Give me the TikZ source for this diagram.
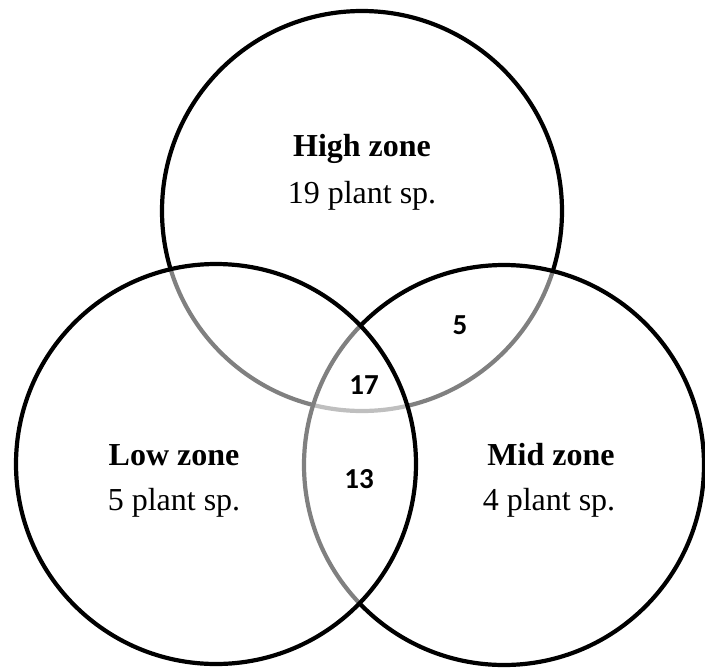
\documentclass[tikz,border=0pt]{standalone}
\usepackage{fontspec}
\setmainfont{Liberation Serif}
\newfontfamily\numfont{Carlito}
\begin{document}
\begin{tikzpicture}[x=1pt,y=-1pt,
  zonecircle/.style={circle, draw=black, line width=4.2pt, fill=white, fill opacity=0.5, minimum size=400pt, inner sep=0pt},
  zonetitle/.style={anchor=base, font=\fontsize{32}{36}\selectfont\bfseries, inner sep=0pt},
  zonecount/.style={anchor=base, font=\fontsize{32}{36}\selectfont, inner sep=0pt},
  overlap/.style={font=\fontsize{29}{32}\selectfont\numfont\bfseries, inner sep=0pt}]
\fill[white] (0,0) rectangle (705,670);
\useasboundingbox (0,0) rectangle (705,670);
\node[zonecircle] (high) at (362,211) {};
\node[zonecircle] (mid) at (504,465) {};
\node[zonecircle] (low) at (216,464) {};
\node[zonetitle] (hight) at (362,156) {High zone};
\node[zonecount] (highc) at (362,203) {19 plant sp.};
\node[zonetitle] (lowt) at (174,465) {Low zone};
\node[zonecount] (lowc) at (174,510) {5 plant sp.};
\node[zonetitle] (midt) at (551,465) {Mid zone};
\node[zonecount] (midc) at (549,510) {4 plant sp.};
\node[overlap] (hm) at (460,325) {5};
\node[overlap] (hlm) at (364,385) {17};
\node[overlap] (lm) at (359,479) {13};
\end{tikzpicture}
\end{document}
